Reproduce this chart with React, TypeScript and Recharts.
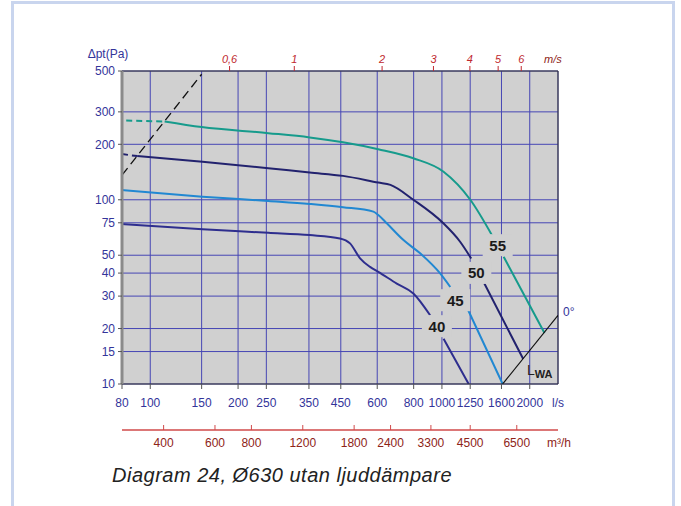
import {
  LineChart,
  Line,
  XAxis,
  YAxis,
  CartesianGrid,
  ReferenceDot,
  ReferenceLine,
} from 'recharts';

// axes
const flowTicks = [80, 100, 150, 200, 250, 350, 450, 600, 800, 1000, 1250, 1600, 2000];
const pressureTicks = [10, 15, 20, 30, 40, 50, 75, 100, 200, 300, 500];
const velocityTicks = [0.6, 1, 2, 3, 4, 5, 6];
const hourFlowTicks = [400, 600, 800, 1200, 1800, 2400, 3300, 4500, 6500];

// Ø630 duct -> 1 m/s is about 312 l/s
const DUCT_AREA = Math.PI * 0.315 * 0.315;

// sound level curves, l/s vs Pa (null = gap for the label)
const q55 = [112, 150, 254, 352, 458, 605, 798, 1013, 1251, 1486, 1555, 1628, 2247];
const p55 = [266, 248, 230, 218, 205, 188, 168, 142, 100, 64, null, 49, 18.9];
const q55lead = [82.7, 112];
const p55lead = [269, 266];

const q50 = [90.2, 151, 254, 352, 458, 605, 666, 798, 1007, 1156, 1260, 1320, 1398, 1898];
const p50 = [172.6, 161, 148.5, 140.5, 134.8, 124, 120.5, 100, 75, 59, 48, null, 35.1, 13.7];
const q50lead = [80, 90.2];
const p50lead = [177, 172.6];

const q45 = [80, 151, 254, 352, 458, 582, 605, 647, 738, 842, 986, 1068, 1120, 1186, 1615];
const p45 = [113, 104, 98.5, 94.9, 91.1, 86.2, 82.7, 74.5, 60.4, 51.2, 39.8, 33.6, null, 28.5, 10];

const q40 = [80, 151, 254, 352, 447, 484, 524, 567, 605, 700, 798, 911, 960, 1013, 1235];
const p40 = [73.9, 69.1, 66.2, 64.3, 61.7, 58, 48.1, 43.2, 40.6, 35.1, 31, 23.6, null, 17.6, 10];

// dashed system line and the LWA limit line
const qSystem = [80, 150];
const pSystem = [136, 480];
const qLwa = [1615, 2500];
const pLwa = [10, 23.6];

// curve tags
const tagNames = ['55', '50', '45', '40'];
const tagQ = [1553, 1312, 1111, 961];
const tagP = [56.7, 40.1, 28.5, 20.6];

const PLOT_BG = '#d0d0d0';
const GRID = '#4646b4';
const AXIS_BLUE = '#33349a';
const RED = '#c0282e';
const DARK_RED = '#8e2418';

const toRows = (q: number[], p: (number | null)[]) =>
  q.map((x, i) => ({ q: x, p: p[i] }));

const CurveTag = (props: any) => {
  const { cx, cy, text } = props;
  return (
    <g>
      <rect x={cx - 15} y={cy - 11} width={30} height={22} fill={PLOT_BG} />
      <text
        x={cx}
        y={cy + 5.5}
        textAnchor="middle"
        fontSize={15}
        fontWeight="bold"
        fill="#1a1a1a"
      >
        {text}
      </text>
    </g>
  );
};

const HourFlowTick = (props: any) => {
  const { x, y, payload } = props;
  const axisY = y - 6;
  return (
    <g>
      <line x1={x} x2={x} y1={axisY - 5} y2={axisY} stroke="#d04a4a" />
      <text x={x} y={y + 11} textAnchor="middle" fontSize={12} fill={DARK_RED}>
        {Math.round(payload.value * 3.6)}
      </text>
    </g>
  );
};

const velocityLabel = (v: number) =>
  String(Math.round((v / (DUCT_AREA * 1000)) * 10) / 10).replace('.', ',');

export default function App() {
  return (
    <div
      style={{
        position: 'absolute',
        left: 0,
        top: 0,
        width: 681,
        height: 506,
        overflow: 'hidden',
        background: '#fff',
        fontFamily: '"Liberation Sans", Arial, sans-serif',
      }}
    >
      <div
        style={{
          position: 'absolute',
          left: 11,
          top: 1,
          width: 658,
          height: 540,
          border: '3px solid #c9d5ee',
        }}
      />
      <div style={{ position: 'absolute', left: 0, top: 0 }}>
        <LineChart
          width={681}
          height={470}
          margin={{ top: 41, right: 123, bottom: 10, left: 62 }}
        >
          <CartesianGrid stroke={GRID} fill={PLOT_BG} fillOpacity={1} />
          <XAxis
            dataKey="q"
            type="number"
            scale="log"
            domain={[80, 2500]}
            allowDataOverflow
            ticks={flowTicks}
            interval={0}
            height={46}
            tickSize={5}
            tickMargin={9}
            tick={{ fill: AXIS_BLUE, fontSize: 12 }}
            tickLine={{ stroke: '#555' }}
            axisLine={{ stroke: '#333' }}
            label={{
              value: 'l/s',
              position: 'right',
              offset: -6,
              dy: -4,
              fill: AXIS_BLUE,
              fontSize: 12,
            }}
          />
          <XAxis
            xAxisId="m3h"
            dataKey="q"
            type="number"
            scale="log"
            domain={[80, 2500]}
            allowDataOverflow
            ticks={hourFlowTicks.map((v) => v / 3.6)}
            interval={0}
            height={30}
            tickSize={0}
            tickMargin={6}
            tickLine={false}
            tick={<HourFlowTick />}
            axisLine={{ stroke: '#d04a4a', strokeWidth: 1.5 }}
            label={{
              value: 'm³/h',
              position: 'right',
              offset: -11,
              dy: -2,
              fill: DARK_RED,
              fontSize: 12,
            }}
          />
          <XAxis
            xAxisId="top"
            orientation="top"
            dataKey="q"
            type="number"
            scale="log"
            domain={[80, 2500]}
            allowDataOverflow
            ticks={velocityTicks.map((v) => v * DUCT_AREA * 1000)}
            tickFormatter={velocityLabel}
            interval={0}
            height={30}
            tickSize={5}
            tickMargin={3}
            tick={{ fill: RED, fontSize: 11, fontStyle: 'italic' }}
            tickLine={{ stroke: RED }}
            axisLine={{ stroke: '#333' }}
            label={{
              value: 'm/s',
              position: 'right',
              offset: -14,
              dy: 3,
              fill: DARK_RED,
              fontSize: 11,
              fontStyle: 'italic',
            }}
          />
          <YAxis
            type="number"
            scale="log"
            domain={[10, 500]}
            allowDataOverflow
            ticks={pressureTicks}
            interval={0}
            width={60}
            tickSize={4}
            tickMargin={3}
            tick={{ fill: AXIS_BLUE, fontSize: 12 }}
            tickLine={{ stroke: '#555' }}
            axisLine={{ stroke: '#8a8a8a', strokeWidth: 3 }}
            label={{
              value: 'Δpt(Pa)',
              position: 'top',
              offset: 13,
              dx: 16,
              fill: AXIS_BLUE,
              fontSize: 12,
            }}
          />
          <ReferenceLine x={2500} stroke="#333" />

          {/* invisible copies so the secondary flow axes get a scale */}
          <Line
            xAxisId="top"
            data={toRows(q45, p45)}
            dataKey="p"
            stroke="none"
            dot={false}
            activeDot={false}
            legendType="none"
            isAnimationActive={false}
          />
          <Line
            xAxisId="m3h"
            data={toRows(q45, p45)}
            dataKey="p"
            stroke="none"
            dot={false}
            activeDot={false}
            legendType="none"
            isAnimationActive={false}
          />

          <Line
            data={toRows(qSystem, pSystem)}
            dataKey="p"
            stroke="#111"
            strokeWidth={1.3}
            strokeDasharray="9 5"
            dot={false}
            activeDot={false}
            isAnimationActive={false}
          />
          <Line
            data={toRows(q55lead, p55lead)}
            dataKey="p"
            stroke="#169b8c"
            strokeWidth={2}
            strokeDasharray="6 4"
            dot={false}
            activeDot={false}
            isAnimationActive={false}
          />
          <Line
            data={toRows(q50lead, p50lead)}
            dataKey="p"
            stroke="#22226e"
            strokeWidth={2}
            strokeDasharray="6 4"
            dot={false}
            activeDot={false}
            isAnimationActive={false}
          />
          <Line
            data={toRows(q55, p55)}
            dataKey="p"
            type="monotone"
            stroke="#169b8c"
            strokeWidth={2}
            dot={false}
            activeDot={false}
            isAnimationActive={false}
          />
          <Line
            data={toRows(q50, p50)}
            dataKey="p"
            type="monotone"
            stroke="#22226e"
            strokeWidth={2}
            dot={false}
            activeDot={false}
            isAnimationActive={false}
          />
          <Line
            data={toRows(q45, p45)}
            dataKey="p"
            type="monotone"
            stroke="#2188d2"
            strokeWidth={2}
            dot={false}
            activeDot={false}
            isAnimationActive={false}
          />
          <Line
            data={toRows(q40, p40)}
            dataKey="p"
            type="monotone"
            stroke="#2e2e8e"
            strokeWidth={2}
            dot={false}
            activeDot={false}
            isAnimationActive={false}
          />
          <Line
            data={toRows(qLwa, pLwa)}
            dataKey="p"
            stroke="#111"
            strokeWidth={1.2}
            dot={false}
            activeDot={false}
            isAnimationActive={false}
          />

          {tagNames.map((name, i) => (
            <ReferenceDot
              key={name}
              x={tagQ[i]}
              y={tagP[i]}
              r={0}
              ifOverflow="visible"
              shape={(p: any) => <CurveTag {...p} text={name} />}
            />
          ))}
          <ReferenceDot
            x={1956}
            y={11.2}
            r={0}
            ifOverflow="visible"
            shape={(p: any) => (
              <text x={p.cx} y={p.cy} fill="#222" fontSize={14}>
                L
                <tspan fontSize={11} fontWeight="bold" dy={3}>
                  WA
                </tspan>
              </text>
            )}
          />
          <ReferenceDot
            x={2500}
            y={24.5}
            r={0}
            ifOverflow="visible"
            shape={(p: any) => (
              <text x={p.cx + 5} y={p.cy + 4} fill={AXIS_BLUE} fontSize={12}>
                0°
              </text>
            )}
          />
        </LineChart>
      </div>
      <div
        style={{
          position: 'absolute',
          left: 112,
          top: 464,
          fontSize: 20,
          fontStyle: 'italic',
          letterSpacing: 0.5,
          color: '#222',
          whiteSpace: 'nowrap',
        }}
      >
        Diagram 24, Ø630 utan ljuddämpare
      </div>
    </div>
  );
}
